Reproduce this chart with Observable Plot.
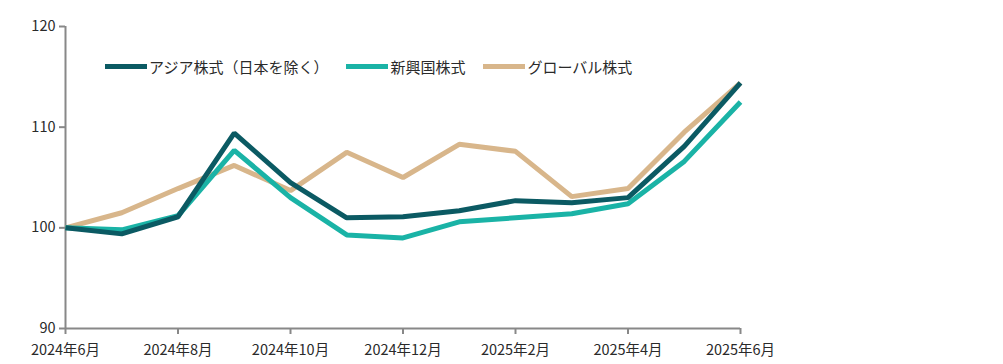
<!DOCTYPE html>
<html><head><meta charset="utf-8">
<script src="https://cdn.jsdelivr.net/npm/d3@7"></script>
<script src="https://cdn.jsdelivr.net/npm/@observablehq/plot@0.6"></script>
<style>
body{margin:0;background:#fff;font-family:"Noto Sans CJK JP","Noto Sans",sans-serif;}
#wrap{position:relative;width:1003px;height:364px;}
#legend{position:absolute;left:105px;top:56px;display:flex;align-items:center;font-size:15px;color:#2a2a2a;}
.item{display:flex;align-items:center;margin-right:18px;}
.sw{display:inline-block;width:42px;height:5px;margin-right:2px;}
</style></head>
<body><div id="wrap"><div id="legend"></div></div>
<script>
const months = ["2024-06","2024-07","2024-08","2024-09","2024-10","2024-11","2024-12","2025-01","2025-02","2025-03","2025-04","2025-05","2025-06"];
const seriesNames = ["アジア株式（日本を除く）","新興国株式","グローバル株式"];
const asiaExJapan = [100,99.4,101.1,109.4,104.5,101.0,101.1,101.7,102.7,102.5,103.0,108.1,114.4];
const emerging =   [100,99.8,101.2,107.7,103.0,99.3,99.0,100.6,101.0,101.4,102.4,106.6,112.5];
const global =     [100,101.5,103.9,106.2,103.7,107.5,105.0,108.3,107.6,103.1,103.9,109.5,114.4];
const colors = ["#0b5a63","#1ab3a6","#d8b68b"];
const yTicks = [90,100,110,120];
const xTickMonths = ["2024-06","2024-08","2024-10","2024-12","2025-02","2025-04","2025-06"];

const allSeries = [asiaExJapan, emerging, global];
const data = [];
allSeries.forEach((vals,i)=>vals.forEach((v,j)=>data.push({m:j,value:v,series:seriesNames[i]})));
const order = [2,1,0];

const fmt = i=>{const [y,mo]=months[i].split("-");return `${y}年${+mo}月`;};
const chart = Plot.plot({
  width:1003, height:364,
  marginLeft:65, marginRight:263, marginTop:26, marginBottom:36,
  style:{fontFamily:'"Noto Sans CJK JP","Noto Sans",sans-serif',fontSize:"14px",color:"#2a2a2a",background:"#fff"},
  x:{type:"linear",domain:[0,months.length-1]},
  y:{domain:[90,120]},
  color:{domain:seriesNames,range:colors},
  marks:[
    Plot.ruleX([0],{stroke:"#888",strokeWidth:2}),
    Plot.ruleY([90],{stroke:"#888",strokeWidth:2}),
    Plot.axisY({ticks:yTicks,tickSize:6,tickPadding:4,stroke:"#888",strokeWidth:2,fill:"#2a2a2a",label:null,fontSize:14.5}),
    Plot.axisX({ticks:xTickMonths.map(m=>months.indexOf(m)),tickFormat:fmt,tickSize:6,tickPadding:10,stroke:"#888",strokeWidth:2,fill:"#2a2a2a",label:null,fontSize:14.5}),
    ...order.map(i=>Plot.line(data.filter(d=>d.series===seriesNames[i]),{x:"m",y:"value",stroke:colors[i],strokeWidth:5,strokeLinejoin:"miter",strokeLinecap:"butt"}))
  ]
});
document.getElementById("wrap").prepend(chart);
const lg = document.getElementById("legend");
seriesNames.forEach((n,i)=>{
  const it=document.createElement("span");it.className="item";
  it.innerHTML=`<span class="sw" style="background:${colors[i]}"></span><span>${n}</span>`;
  lg.appendChild(it);
});
</script></body></html>
